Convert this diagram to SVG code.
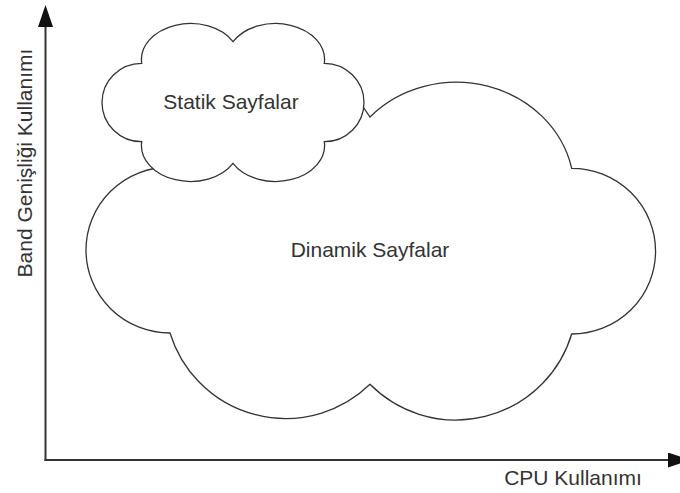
<svg xmlns="http://www.w3.org/2000/svg" width="680" height="493" viewBox="0 0 680 493">
<style>
.cloud{fill:#fff;stroke:#333;stroke-width:1.3;stroke-linejoin:miter}
.axis{stroke:#333;stroke-width:2;fill:none}
.lbl{font-family:"Liberation Sans",Arial,sans-serif;font-size:21px;fill:#333}
</style>
<defs>
<marker id="arr" markerUnits="userSpaceOnUse" markerWidth="22" markerHeight="15" refX="0" refY="7.5" orient="auto">
<path d="M0,0 L22,7.5 L0,15 z" fill="#111"/>
</marker>
</defs>
<rect width="680" height="493" fill="#fff"/>
<g id="connectors">
<line class="axis" x1="45.5" y1="461" x2="45.5" y2="27" marker-end="url(#arr)"/>
<line class="axis" x1="44.5" y1="460" x2="668" y2="460" marker-end="url(#arr)"/>
</g>
<g id="dinamik">
<path class="cloud" d="M370,117 A118,109 0 0 1 571.7,168.3 A83,82 0 0 1 571.7,334 A121,121 0 0 1 370,384.3 A121,121 0 0 1 170,333 A83,82 0 0 1 170,167 L250,140 L355,95 Z"/>
<text class="lbl" x="370" y="257" text-anchor="middle">Dinamik Sayfalar</text>
</g>
<g id="statik">
<path class="cloud" d="M141.7,63.3 A49,36 0 0 1 233,41.7 A49,36 0 0 1 324.3,63.3 A39.5,39 0 0 1 324.3,141.7 A49,36 0 0 1 233,163.3 A49,36 0 0 1 141.7,141.7 A39.5,39 0 0 1 141.7,63.3 Z"/>
<text class="lbl" x="231" y="108.5" text-anchor="middle">Statik Sayfalar</text>
</g>
<text class="lbl" x="573" y="485" text-anchor="middle">CPU Kullanımı</text>
<text class="lbl" transform="translate(31.5,163) rotate(-90)" text-anchor="middle">Band Genişliği Kullanımı</text>
</svg>
